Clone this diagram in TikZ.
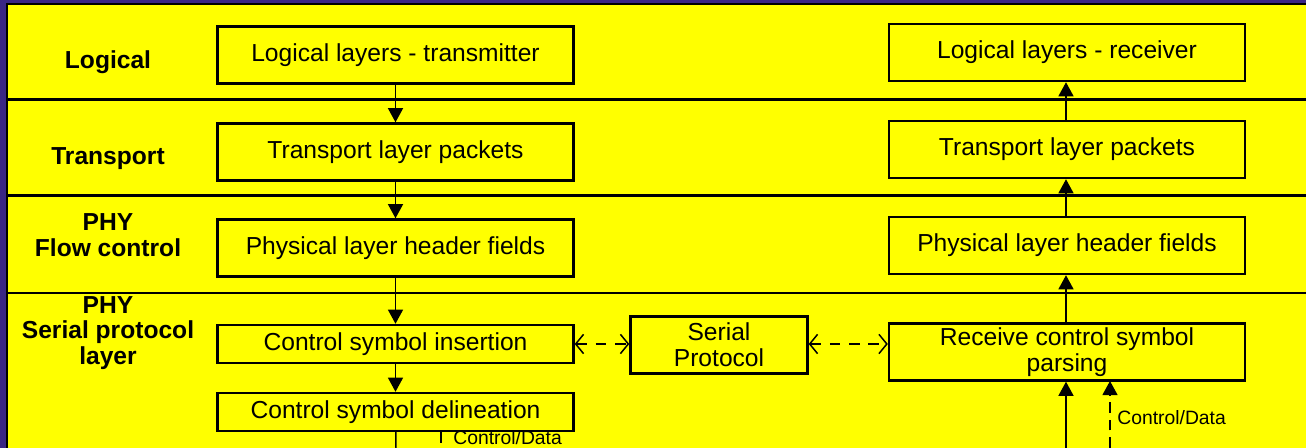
\documentclass[tikz,border=0pt]{standalone}
\usepackage{fontspec}
\setmainfont{Liberation Sans}
\usetikzlibrary{arrows.meta,positioning}
\definecolor{band}{RGB}{255,255,0}
\definecolor{frame}{RGB}{58,38,132}
\tikzset{
  box/.style={draw, line width=1.4pt, minimum width=7.12cm, minimum height=1.14cm, inner sep=1pt, align=center, font=\fontsize{14}{14.7}\selectfont},
  smallbox/.style={box, minimum height=0.76cm},
  lbl/.style={align=center, font=\fontsize{14}{14.7}\selectfont\bfseries},
  flow/.style={line width=0.85pt, -{Triangle[length=8pt,width=8.5pt]}},
  ctrl/.style={line width=0.85pt, dash pattern=on 6pt off 5pt, {Straight Barb[length=4.5pt,width=11pt]}-{Straight Barb[length=4.5pt,width=11pt]}},
  cdata/.style={line width=0.85pt, dash pattern=on 6pt off 4pt},
  note/.style={anchor=west, inner sep=0pt, font=\fontsize{11}{12}\selectfont}
}
\begin{document}
\begin{tikzpicture}[x=0.02cm, y=-0.02cm]
  \useasboundingbox (0,0) rectangle (1306,448);
  \fill[frame] (0,0) rectangle (1306,448);
  \fill[band] (8,5) rectangle (1306,448);
  \draw[line width=1.6pt] (7,448) -- (7,4) -- (1306,4);
  \foreach \y in {100,196,293}
    \draw[line width=1.7pt] (7,\y) -- (1306,\y);

  \node[lbl] (logical) at (108,62) {Logical};
  \node[lbl] (transport) at (108,159) {Transport};
  \node[lbl] (flowctl) at (108,235) {PHY\\Flow control};
  \node[lbl] (serial) at (108,333) {PHY\\Serial protocol\\layer};

  \node[box] (tx) at (395.5,55) {Logical layers - transmitter};
  \node[box] (ttx) at (395.5,152) {Transport layer packets};
  \node[box] (ptx) at (395.5,248) {Physical layer header fields};
  \node[smallbox] (ins) at (395.5,344) {Control symbol insertion};
  \node[smallbox] (del) at (395.5,412) {Control symbol delineation};

  \node[box] (rx) at (1067,52.5) {Logical layers - receiver};
  \node[box] (trx) at (1067,149.5) {Transport layer packets};
  \node[box] (prx) at (1067,245.5) {Physical layer header fields};
  \node[box] (parse) at (1067,352) {Receive control symbol\\parsing};

  \node[box, minimum width=3.54cm] (proto) at (719,345) {Serial\\Protocol};

  \coordinate (txout) at (396,448);
  \coordinate (txdash) at (441,432);
  \coordinate (txdashend) at (441,448);
  \coordinate (rxin) at (1066,448);
  \coordinate (rxdash) at (1110,448);
  \coordinate (rxdashend) at (1110,381);

  \draw[flow] (tx) -- (ttx);
  \draw[flow] (ttx) -- (ptx);
  \draw[flow] (ptx) -- (ins);
  \draw[flow] (ins) -- (del);
  \draw[line width=0.85pt] (del) -- (txout);
  \draw[cdata] (txdash) -- (txdashend);
  \node[note] (txnote) at (453,438) {Control/Data};

  \draw[ctrl] (ins.east) -- (proto.west |- ins.east);
  \draw[ctrl] (proto.east |- ins.east) -- (parse.west |- ins.east);

  \draw[flow] (rxin) -- (parse.south -| rxin);
  \draw[flow, dash pattern=on 6pt off 4pt] (rxdash) -- (rxdashend);
  \node[note] (rxnote) at (1117,418) {Control/Data};
  \draw[flow] (parse.north -| rxin) -- (prx.south -| rxin);
  \draw[flow] (prx.north -| rxin) -- (trx.south -| rxin);
  \draw[flow] (trx.north -| rxin) -- (rx.south -| rxin);
\end{tikzpicture}
\end{document}
